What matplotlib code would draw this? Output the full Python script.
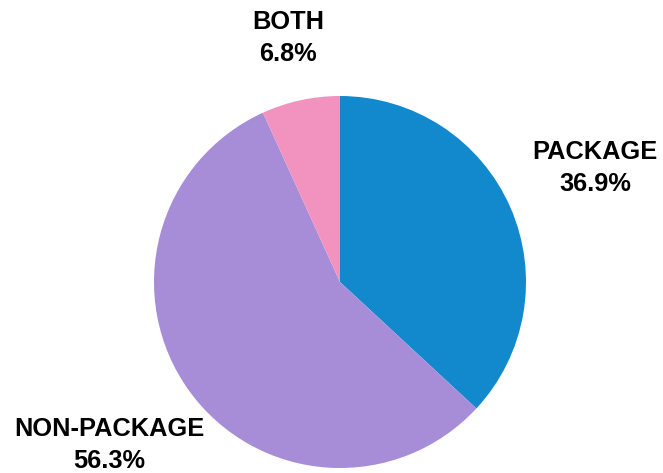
import matplotlib.pyplot as plt

plt.rcParams['font.family'] = ['Liberation Sans', 'DejaVu Sans']

labels = ["PACKAGE", "NON-PACKAGE", "BOTH"]
shares = [36.9, 56.3, 6.8]
colors = ["#1289CC", "#A78CD7", "#F292BF"]

fig = plt.figure(figsize=(6.63, 4.73), dpi=100)
cx, cy, r = 340, 282, 186
ax = fig.add_axes([(cx - r) / 663, (473 - cy - r) / 473, 2 * r / 663, 2 * r / 473])

ax.pie(shares, colors=colors, startangle=90, counterclock=False,
       wedgeprops=dict(linewidth=0), radius=1)
ax.set_xlim(-1, 1)
ax.set_ylim(-1, 1)
ax.set_aspect("equal")
ax.axis("off")

# label centres in pixels of the picture
label_px = [(595, 168), (109, 445), (288, 38)]
for lab, val, (px, py) in zip(labels, shares, label_px):
    x = (px - cx) / r
    y = (cy - py) / r
    ax.text(x, y, f"{lab}\n{val}%", ha="center", va="center",
            fontsize=18.3, fontweight="bold", color="black",
            linespacing=1.38, clip_on=False)

fig.savefig("out.png", dpi=100)
